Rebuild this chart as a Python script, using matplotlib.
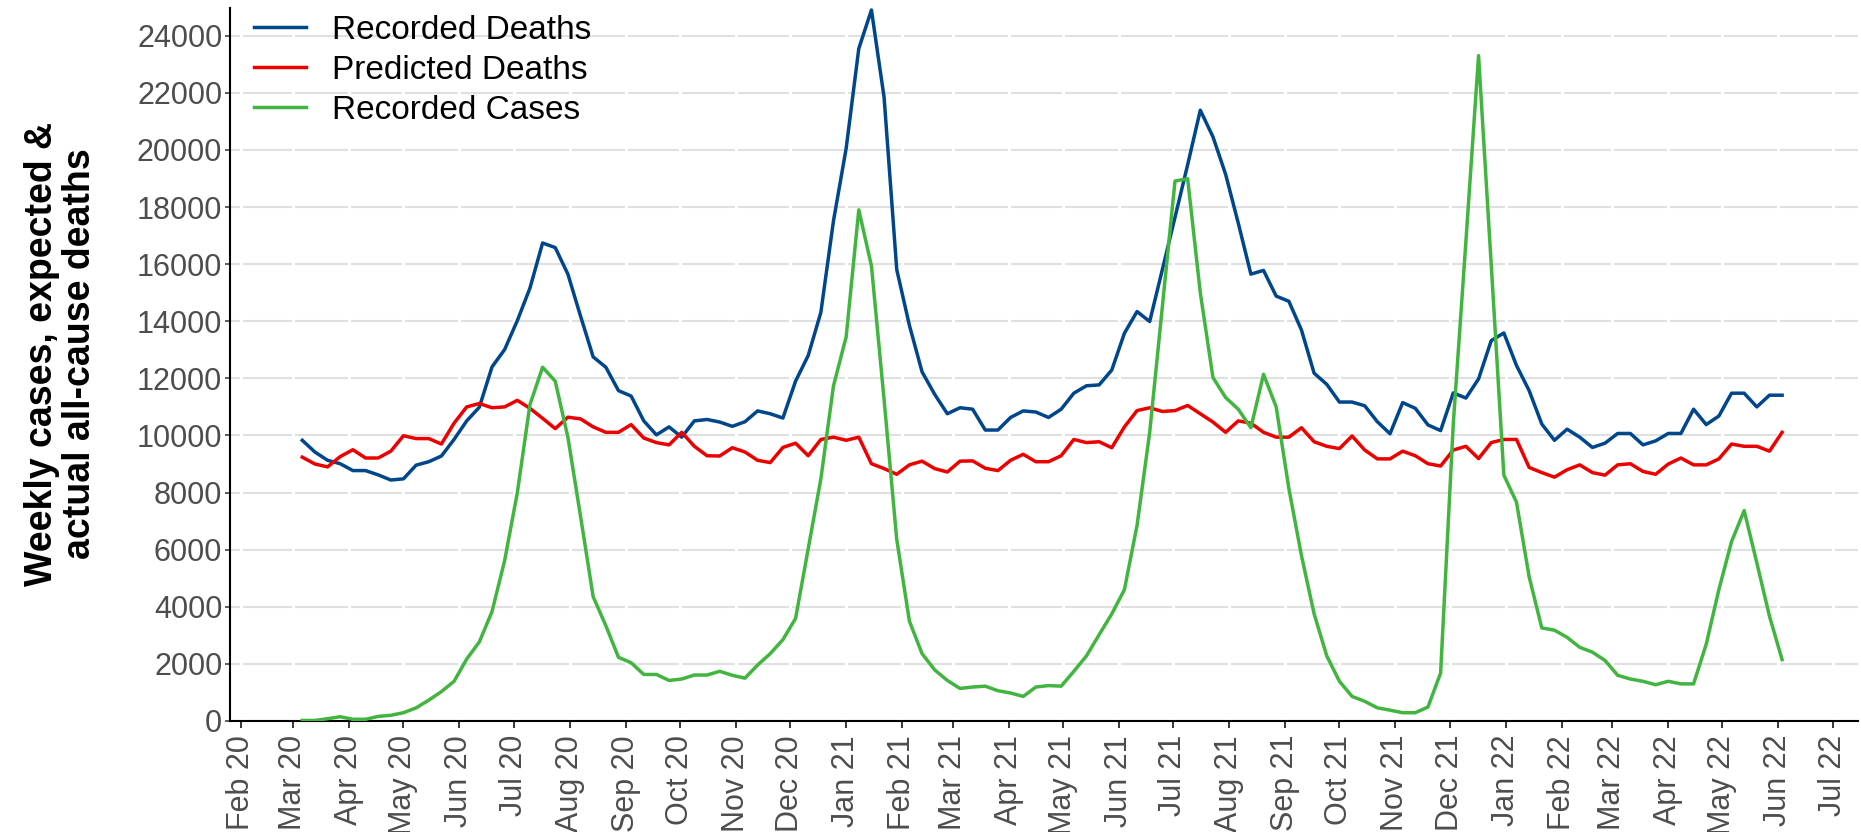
import matplotlib
matplotlib.use('Agg')

import matplotlib.pyplot as plt
import matplotlib.dates as mdates
import pandas as pd

plt.rcParams['font.family'] = ['Liberation Sans', 'DejaVu Sans']

# weekly series, first week ending 2020-03-06
week_start = "2020-03-06"

recorded_deaths = [
    9830, 9420, 9130, 9010, 8770, 8770, 8620, 8440, 8480, 8960,
    9080, 9280, 9860, 10510, 10990, 12400, 13010, 14020, 15160, 16740,
    16580, 15650, 14180, 12750, 12390, 11570, 11380, 10510, 10020, 10300,
    9940, 10510, 10560, 10470, 10320, 10480, 10860, 10760, 10610, 11900,
    12800, 14310, 17520, 20050, 23550, 24900, 21840, 15810, 13860, 12230,
    11440, 10760, 10970, 10920, 10190, 10190, 10630, 10860, 10820, 10630,
    10920, 11480, 11740, 11770, 12290, 13580, 14340, 13990, 15810, 17640,
    19480, 21390, 20460, 19150, 17440, 15650, 15780, 14880, 14700, 13690,
    12180, 11790, 11170, 11170, 11040, 10480, 10060, 11150, 10950, 10370,
    10170, 11490, 11310, 11980, 13320, 13590, 12450, 11570, 10400, 9830,
    10220, 9940, 9580, 9730, 10070, 10070, 9670, 9810, 10070, 10070,
    10920, 10380, 10680, 11480, 11480, 11000, 11410, 11410,
]

predicted_deaths = [
    9240, 9000, 8900, 9260, 9500, 9210, 9210, 9450, 9990, 9890,
    9890, 9700, 10430, 11000, 11120, 10970, 11000, 11230, 10950, 10600,
    10240, 10640, 10580, 10300, 10110, 10110, 10380, 9910, 9750, 9670,
    10110, 9620, 9290, 9280, 9570, 9420, 9130, 9050, 9580, 9730,
    9290, 9860, 9940, 9830, 9940, 9010, 8840, 8640, 8970, 9100,
    8840, 8720, 9100, 9110, 8850, 8770, 9130, 9340, 9080, 9080,
    9290, 9860, 9750, 9780, 9570, 10300, 10870, 10970, 10840, 10870,
    11050, 10760, 10470, 10110, 10510, 10430, 10110, 9940, 9940, 10270,
    9780, 9620, 9540, 9980, 9490, 9180, 9180, 9450, 9290, 9010,
    8930, 9490, 9620, 9190, 9750, 9860, 9860, 8880, 8700, 8540,
    8800, 8970, 8700, 8610, 8970, 9010, 8740, 8640, 9000, 9210,
    8970, 8970, 9180, 9700, 9620, 9620, 9450, 10110,
]

recorded_cases = [
    20, 20, 80, 150, 60, 60, 160, 200, 290, 460,
    730, 1030, 1390, 2170, 2770, 3830, 5620, 7990, 11080, 12390,
    11900, 9940, 7170, 4350, 3340, 2230, 2040, 1630, 1630, 1420,
    1470, 1610, 1610, 1740, 1600, 1500, 1960, 2360, 2850, 3590,
    6030, 8480, 11740, 13450, 17900, 15940, 11250, 6360, 3500, 2360,
    1790, 1420, 1140, 1190, 1220, 1060, 980, 860, 1190, 1240,
    1220, 1740, 2280, 3020, 3750, 4600, 6850, 10110, 14510, 18910,
    18990, 15000, 12030, 11330, 10920, 10270, 12140, 11000, 8150, 5790,
    3750, 2280, 1390, 860, 690, 460, 380, 290, 290, 490,
    1680, 10400, 16800, 23300, 16000, 8610, 7660, 5050, 3260, 3180,
    2930, 2580, 2410, 2120, 1600, 1470, 1390, 1270, 1390, 1300,
    1300, 2690, 4600, 6280, 7370, 5540, 3670, 2150,
]

weeks = pd.date_range(week_start, periods=len(recorded_deaths), freq="7D")

series_names = ["Recorded Deaths", "Predicted Deaths", "Recorded Cases"]
series_colors = ["#00468B", "#ED0000", "#42B540"]

fig = plt.figure(figsize=(18.61, 8.32), dpi=100)
ax = fig.add_axes([230 / 1861, 1 - 721 / 832, 1628 / 1861, 713 / 832])

for vals, name, col in zip([recorded_deaths, predicted_deaths, recorded_cases],
                           series_names, series_colors):
    ax.plot(weeks, vals, color=col, lw=2.5, label=name, zorder=3)

ax.set_xlim(pd.Timestamp("2020-01-26"), pd.Timestamp("2022-07-15"))
ax.set_ylim(0, 24970)
ax.set_yticks(range(0, 24001, 2000))

months = pd.date_range("2020-02-01", "2022-07-01", freq="MS")
ax.set_xticks(months)
ax.xaxis.set_major_formatter(mdates.DateFormatter("%b %y"))

# horizontal grid, broken by white lines at each month
ax.grid(axis='y', color='#e0e0e0', lw=1.5, zorder=0)
ax.set_axisbelow(True)
for m in months:
    ax.axvline(m, color='white', lw=2.2, zorder=1)

for s in ['top', 'right']:
    ax.spines[s].set_visible(False)
for s in ['left', 'bottom']:
    ax.spines[s].set_linewidth(1.5)
    ax.spines[s].set_color('black')

ax.tick_params(axis='x', rotation=90, labelsize=22, labelcolor='#4d4d4d',
               length=5, width=1.1, color='black', pad=5)
ax.tick_params(axis='y', labelsize=22, labelcolor='#4d4d4d',
               length=3.5, width=1.1, color='#333333', pad=2)

fig.text(61 / 1861, 1 - 354 / 832, "Weekly cases, expected &\nactual all-cause deaths",
         rotation=90, ha='center', va='center', multialignment='center',
         fontsize=27, fontweight='bold', linespacing=1.05)

ax.legend(loc='upper left', bbox_to_anchor=(254 / 1861, 1 - 15 / 832),
          bbox_transform=fig.transFigure, frameon=False, fontsize=24,
          handlelength=1.55, handletextpad=0.8, labelspacing=0.27,
          borderpad=0, borderaxespad=0)

fig.savefig("out.png", dpi=100)
